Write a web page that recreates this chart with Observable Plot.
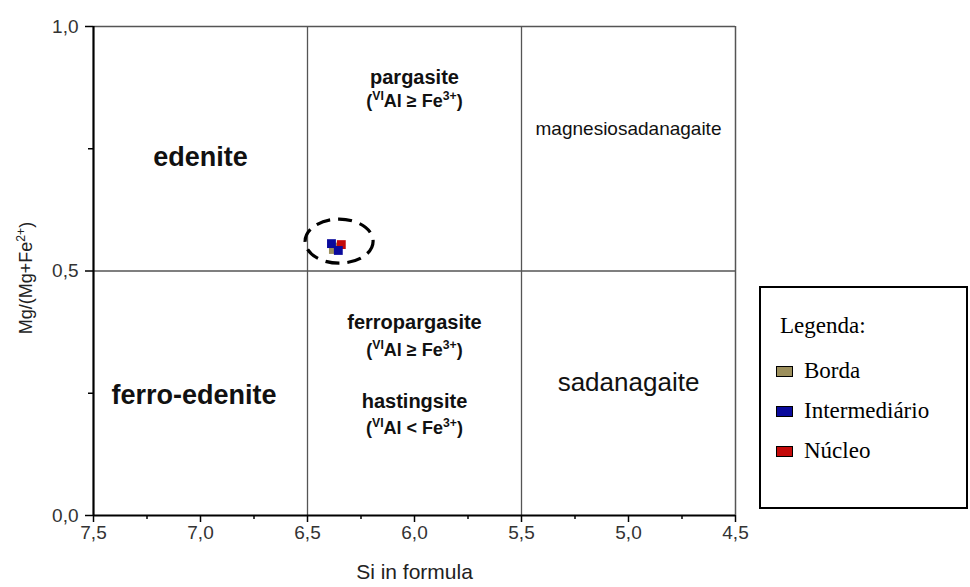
<!DOCTYPE html>
<html><head><meta charset="utf-8">
<script src="https://cdn.jsdelivr.net/npm/d3@7"></script>
<script src="https://cdn.jsdelivr.net/npm/@observablehq/plot@0.6"></script>
<style>
body{margin:0;background:#fff;}
#wrap{position:relative;width:970px;height:587px;overflow:hidden;}
#legend{position:absolute;left:759px;top:286px;width:209px;height:223px;box-sizing:border-box;border:2px solid #000;background:#fff;font-family:"Liberation Serif","Times New Roman",serif;font-size:23px;color:#000;}
#legend .row{position:absolute;height:24px;line-height:24px;display:flex;align-items:center;white-space:nowrap;}
#legend .sw{width:15px;height:9px;border:1.5px solid #000;margin-right:11px;}
</style></head><body><div id="wrap"></div>
<script>
// ---- data ----
const seriesNames = ["Borda", "Intermediário", "Núcleo"];
const seriesColors = ["#9c8f5c", "#0a0a9c", "#c40a0a"];
const pointSeries = ["Borda", "Borda", "Intermediário", "Núcleo", "Intermediário"];
const pointSi = [6.379, 6.372, 6.388, 6.342, 6.356];
const pointMg = [0.544, 0.549, 0.556, 0.554, 0.542];

const xTicks = [7.5, 7.0, 6.5, 6.0, 5.5, 5.0, 4.5];
const xMinorTicks = [7.25, 6.75, 6.25, 5.75, 5.25, 4.75];
const yTicks = [0, 0.5, 1.0];
const yMinorTicks = [0.25, 0.75];
const dividerSi = [6.5, 5.5];
const dividerMg = [0.5];

const bigLabels = ["edenite", "ferro-edenite"];
const bigSi = [7.0, 7.03];
const bigMg = [0.733, 0.245];
const midLabels = ["pargasite", "ferropargasite", "hastingsite"];
const midSi = [6.0, 6.0, 6.0];
const midMg = [0.895, 0.395, 0.232];
const formulaLabels = ["(VIAl ≥ Fe3+)", "(VIAl ≥ Fe3+)", "(VIAl < Fe3+)"];
const formulaSi = [6.0, 6.0, 6.0];
const formulaMg = [0.847, 0.338, 0.178];
const plainLabels = ["magnesiosadanagaite", "sadanagaite"];
const plainSi = [5.0, 5.0];
const plainMg = [0.79, 0.272];
const plainSizes = [19, 26];

const xLabel = "Si in formula";
const yLabel = "Mg/(Mg+Fe2+)";
const legendTitle = "Legenda:";
const highlightSi = 6.35;
const highlightMg = 0.56;

// ---- build ----
const fmt = d => d.toFixed(1).replace(".", ",");
const points = pointSi.map((s, i) => ({si: s, mg: pointMg[i], series: pointSeries[i]}));
const rows = (labels, si, mg) => labels.map((t, i) => ({t, si: si[i], mg: mg[i]}));

const plot = Plot.plot({
  width: 970, height: 587,
  marginLeft: 93, marginRight: 235, marginTop: 26, marginBottom: 72,
  x: {domain: [7.5, 4.5]},
  y: {domain: [0, 1]},
  color: {domain: seriesNames, range: seriesColors},
  style: {fontFamily: "'Liberation Sans', Arial, sans-serif", background: "#fff", color: "#222"},
  marks: [
    Plot.ruleX(dividerSi, {stroke: "#555", strokeWidth: 1.3}),
    Plot.ruleY(dividerMg, {stroke: "#555", strokeWidth: 1.3}),
    Plot.ruleY([1], {stroke: "#555", strokeWidth: 1.5}),
    Plot.ruleX([4.5], {stroke: "#555", strokeWidth: 1.5}),
    Plot.axisX({ticks: xTicks, tickFormat: fmt, tickSize: 7, tickPadding: 3, fontSize: 19, label: null, stroke: "#000", strokeWidth: 1.5}),
    Plot.axisX({ticks: xMinorTicks, tickFormat: () => "", tickSize: 4, label: null, stroke: "#000", strokeWidth: 1.5}),
    Plot.axisY({ticks: yTicks, tickFormat: fmt, tickSize: 8, tickPadding: 7, fontSize: 19, label: null, stroke: "#000", strokeWidth: 1.5}),
    Plot.axisY({ticks: yMinorTicks, tickFormat: () => "", tickSize: 5, label: null, stroke: "#000", strokeWidth: 1.5}),
    Plot.ruleX([7.5], {stroke: "#000", strokeWidth: 2.2}),
    Plot.ruleY([0], {stroke: "#000", strokeWidth: 2.2}),
    Plot.dot(points, {x: "si", y: "mg", fill: "series", symbol: "square", r: 5}),
    Plot.text(rows(bigLabels, bigSi, bigMg), {x: "si", y: "mg", text: "t", fontSize: 27, fontWeight: "bold", fill: "#111"}),
    Plot.text(rows(midLabels, midSi, midMg), {x: "si", y: "mg", text: "t", fontSize: 20, fontWeight: "bold", fill: "#111"}),
    Plot.text(rows(formulaLabels, formulaSi, formulaMg), {x: "si", y: "mg", text: "t", fontSize: 18, fontWeight: "bold", fill: "#111"}),
    Plot.text(plainLabels.map((t, i) => ({t, si: plainSi[i], mg: plainMg[i], fs: plainSizes[i]})), {x: "si", y: "mg", text: "t", fontSize: "fs", fill: "#111"}),
    Plot.text([xLabel], {frameAnchor: "bottom", dy: 57, lineAnchor: "middle", fontSize: 21, fill: "#222"}),
    Plot.text([yLabel], {frameAnchor: "left", textAnchor: "middle", dx: -67, dy: 7, rotate: -90, lineAnchor: "middle", fontSize: 18, fill: "#222"})
  ]
});

// tick label colour and size (match the formatted tick strings)
const tickStrings = new Set([...xTicks, ...yTicks].map(fmt));
d3.select(plot).selectAll("text").each(function() {
  if (tickStrings.has(this.textContent.trim())) {
    d3.select(this).style("font-size", "19px").style("fill", "#333");
  }
});

// superscripts
d3.select(plot).selectAll("text").each(function() {
  const t = this.textContent;
  const parts = t.split(/(VI(?=Al)|(?<=Fe)[23]\+)/);
  if (parts.length === 1) return;
  const s = d3.select(this);
  s.text(null);
  parts.forEach(p => {
    if (!p) return;
    if (/^(VI|[23]\+)$/.test(p)) s.append("tspan").attr("baseline-shift", "super").attr("font-size", "0.68em").text(p);
    else s.append("tspan").text(p);
  });
});

// dashed highlight ellipse around the point cluster
const sx = plot.scale("x"), sy = plot.scale("y");
d3.select(plot).append("ellipse")
  .attr("cx", sx.apply(highlightSi)).attr("cy", sy.apply(highlightMg))
  .attr("rx", 34).attr("ry", 22)
  .attr("fill", "none").attr("stroke", "#000").attr("stroke-width", 3.2)
  .attr("stroke-dasharray", "14 8");

const wrap = document.getElementById("wrap");
wrap.appendChild(plot);

// legend
const lg = d3.select(wrap).append("div").attr("id", "legend");
lg.append("div").attr("class", "row").style("left", "19px").style("top", "26px").text(legendTitle);
seriesNames.forEach((n, i) => {
  const r = lg.append("div").attr("class", "row").style("left", "15px").style("top", (71 + i * 40) + "px");
  r.append("div").attr("class", "sw").style("background", seriesColors[i]);
  r.append("span").text(n);
});
</script>
</body></html>
